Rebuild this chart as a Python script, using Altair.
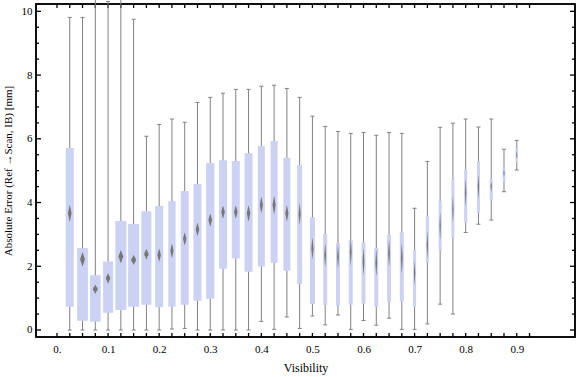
import altair as alt
import pandas as pd

# bin centres (Visibility)
visibility = [0.025, 0.05, 0.075, 0.1, 0.125, 0.15, 0.175, 0.2, 0.225, 0.25, 0.275, 0.3,
              0.325, 0.35, 0.375, 0.4, 0.425, 0.45, 0.475, 0.5, 0.525, 0.55, 0.575, 0.6,
              0.625, 0.65, 0.675, 0.7, 0.725, 0.75, 0.775, 0.8, 0.825, 0.85, 0.875, 0.9]
whisker_low = [0.0, 0.0, 0.0, 0.0, 0.0, 0.0, 0.0, 0.0, 0.03, 0.05, 0.0, 0.0,
               0.0, 0.0, 0.0, 0.27, 0.02, 0.41, 0.05, 0.44, 0.16, 0.47, 0.02, 0.30,
               0.15, 0.37, 0.02, 0.02, 0.19, 0.81, 0.50, 3.06, 3.32, 3.45, 4.34, 5.02]
q1 = [0.73, 0.29, 0.26, 0.54, 0.63, 0.73, 0.79, 0.71, 0.73, 0.79, 0.92, 0.98,
      1.92, 2.24, 1.83, 1.99, 2.11, 1.86, 1.45, 0.81, 0.79, 0.76, 0.79, 0.83,
      0.73, 0.89, 0.89, 0.73, 2.11, 2.51, 2.91, 3.37, 3.68, 4.08, 4.67, 5.26]
mean = [3.66, 2.22, 1.28, 1.62, 2.30, 2.20, 2.38, 2.35, 2.49, 2.86, 3.16, 3.45,
        3.70, 3.70, 3.66, 3.92, 3.92, 3.66, 3.64, 2.56, 2.35, 2.30, 2.44, 2.14,
        2.11, 2.41, 2.25, 1.78, 2.67, 3.26, 3.79, 4.31, 4.50, 4.50, 4.92, 5.49]
mean_ci = [0.26, 0.22, 0.14, 0.16, 0.20, 0.15, 0.16, 0.20, 0.22, 0.20, 0.20, 0.20,
           0.20, 0.20, 0.25, 0.25, 0.28, 0.25, 0.32, 0.33, 0.35, 0.35, 0.40, 0.40,
           0.40, 0.40, 0.45, 0.35, 0.40, 0.40, 0.40, 0.40, 0.35, 0.15, 0.10, 0.12]
q3 = [5.71, 2.57, 1.72, 2.15, 3.42, 3.33, 3.73, 3.89, 4.05, 4.36, 4.58, 5.24,
      5.33, 5.30, 5.55, 5.77, 5.93, 5.40, 5.18, 3.54, 3.01, 2.73, 2.82, 2.75,
      2.57, 2.98, 3.08, 2.51, 3.58, 4.05, 4.71, 5.05, 5.30, 4.74, 5.10, 5.69]
whisker_high = [9.81, 9.81, 11.5, 10.31, 11.5, 9.75, 6.08, 6.45, 6.62, 6.52, 7.14, 7.30,
                7.43, 7.55, 7.55, 7.65, 7.68, 7.58, 7.30, 6.71, 6.39, 6.23, 6.17, 6.20,
                6.11, 6.20, 6.17, 3.82, 5.29, 6.36, 6.49, 6.62, 6.37, 6.62, 5.67, 5.95]
# relative sample weight (drives the box width)
relative_count = [8, 10.7, 10.7, 10, 11, 11, 10, 8, 7.3, 8, 8, 8.3,
                  8, 8, 8, 7, 7, 7, 5, 5, 4, 4, 4, 4,
                  4, 4, 4, 3, 3, 3, 3, 3, 3, 3, 2.7, 2.3]

x_tick_values = [round(i * 0.025, 3) for i in range(38)]
y_major = [0, 2, 4, 6, 8, 10]
y_minor = [v / 2 for v in range(0, 21) if v % 4 != 0]

W, H = 539, 333
X_DOMAIN = [-0.0313, 1.0042]
Y_DOMAIN = [-0.22, 10.23]
FONT = "Liberation Serif"
BOX = "#cbd2f4"
GREY = "#808080"

df = pd.DataFrame({"vis": visibility, "lo": whisker_low, "q1": q1, "mean": mean,
                   "q3": q3, "hi": whisker_high, "w": relative_count})

rows = []
for v, m, c, w in zip(visibility, mean, mean_ci, relative_count):
    rows += [{"vis": v, "y": m - c, "s": 0.2, "o": 0},
             {"vis": v, "y": m, "s": w * 0.45, "o": 1},
             {"vis": v, "y": m + c, "s": 0.2, "o": 2}]
diamonds = pd.DataFrame(rows)

xs = alt.Scale(domain=X_DOMAIN, nice=False, zero=False)
ys = alt.Scale(domain=Y_DOMAIN, nice=False, zero=False)

x_bottom = alt.Axis(values=[0.0, 0.1, 0.2, 0.3, 0.4, 0.5, 0.6, 0.7, 0.8, 0.9],
                    ticks=False, domain=False, grid=False, labelOverlap=False,
                    labelExpr="datum.value == 0 ? '0.' : format(datum.value, '.1f')",
                    labelFont=FONT, labelFontSize=11, labelColor="black", labelPadding=6,
                    title="Visibility", titleFont=FONT, titleFontSize=12,
                    titleFontWeight="normal", titleColor="black", titlePadding=8)
y_left = alt.Axis(values=y_major, ticks=False, domain=False, grid=False,
                  labelExpr="format(datum.value, 'd')",
                  labelFont=FONT, labelFontSize=11, labelColor="black", labelPadding=4,
                  title="Absolute Error (Ref →Scan, IB) [mm]", titleFont=FONT,
                  titleFontSize=11, titleFontWeight="normal", titleColor="black",
                  titlePadding=8)

base = alt.Chart(df)
whisk = base.mark_rule(color=GREY, strokeWidth=1).encode(
    x=alt.X("vis:Q", scale=xs, axis=x_bottom),
    y=alt.Y("lo:Q", scale=ys, axis=y_left),
    y2="hi:Q")
boxes = base.mark_bar(color=BOX, opacity=1).encode(
    x=alt.X("vis:Q", scale=xs), y=alt.Y("q1:Q", scale=ys), y2="q3:Q",
    size=alt.Size("w:Q", scale=None, legend=None))
cap_lo = base.mark_rule(color=GREY, strokeWidth=1, xOffset=-2, x2Offset=2).encode(
    x=alt.X("vis:Q", scale=xs), x2="vis:Q", y=alt.Y("lo:Q", scale=ys))
cap_hi = base.mark_rule(color=GREY, strokeWidth=1, xOffset=-2, x2Offset=2).encode(
    x=alt.X("vis:Q", scale=xs), x2="vis:Q", y=alt.Y("hi:Q", scale=ys))
diam = alt.Chart(diamonds).mark_trail(color="#777777").encode(
    x=alt.X("vis:Q", scale=xs), y=alt.Y("y:Q", scale=ys),
    size=alt.Size("s:Q", scale=None, legend=None),
    detail="vis:N", order="o:Q")

# frame and inward ticks
frame = alt.Chart(pd.DataFrame({"k": [0]})).mark_rect(
    filled=False, stroke="black", strokeWidth=1.5).encode(
    x=alt.value(0), x2=alt.value(W), y=alt.value(0), y2=alt.value(H))
ymaj = pd.DataFrame({"v": y_major})
ymin = pd.DataFrame({"v": y_minor})
xt = pd.DataFrame({"v": x_tick_values})
tk = dict(color="black", strokeWidth=1.3)
t1 = alt.Chart(ymaj).mark_rule(**tk).encode(y=alt.Y("v:Q", scale=ys), x=alt.value(0), x2=alt.value(5))
t2 = alt.Chart(ymaj).mark_rule(**tk).encode(y=alt.Y("v:Q", scale=ys), x=alt.value(W), x2=alt.value(W - 5))
t3 = alt.Chart(ymin).mark_rule(**tk).encode(y=alt.Y("v:Q", scale=ys), x=alt.value(0), x2=alt.value(3))
t4 = alt.Chart(ymin).mark_rule(**tk).encode(y=alt.Y("v:Q", scale=ys), x=alt.value(W), x2=alt.value(W - 3))
t5 = alt.Chart(xt).mark_rule(**tk).encode(x=alt.X("v:Q", scale=xs), y=alt.value(0), y2=alt.value(4))
t6 = alt.Chart(xt).mark_rule(**tk).encode(x=alt.X("v:Q", scale=xs), y=alt.value(H), y2=alt.value(H - 4))

chart = alt.layer(frame, t1, t2, t3, t4, t5, t6, whisk, boxes, cap_lo, cap_hi, diam).properties(
    width=W, height=H, background="white",
    autosize=alt.AutoSizeParams(type="none"),
    padding={"left": 36, "top": 4, "right": 1, "bottom": 40},
).configure_view(stroke="black", strokeWidth=1.5)

chart.save("out.html", embed_options={"renderer": "svg", "actions": False})
